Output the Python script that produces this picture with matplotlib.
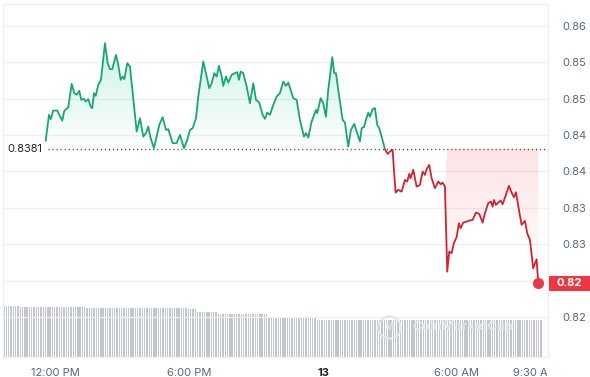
import matplotlib
matplotlib.use("Agg")
import matplotlib.pyplot as plt
import matplotlib.colors as mcolors
import numpy as np
from matplotlib.path import Path
from matplotlib.patches import Rectangle
from matplotlib.transforms import Bbox, TransformedBbox, blended_transform_factory

plt.rcParams["font.family"] = ["Inter", "DejaVu Sans"]

# time in hours relative to midnight of the 13th (negative = the 12th)
hours = [
    -12.418, -12.270, -12.194, -12.078, -11.899, -11.809, -11.675, -11.585, -11.406, -11.254,
    -11.137, -11.030, -10.914, -10.824, -10.703, -10.627, -10.510, -10.403, -10.331, -10.255,
    -10.179, -10.063, -9.942, -9.763, -9.642, -9.539, -9.436, -9.270, -9.167, -9.060,
    -8.970, -8.898, -8.764, -8.643, -8.343, -8.195, -8.047, -7.927, -7.824, -7.716,
    -7.568, -7.331, -7.179, -7.031, -6.928, -6.731, -6.552, -6.404, -6.225, -6.077,
    -5.956, -5.835, -5.687, -5.584, -5.477, -5.360, -5.208, -5.092, -4.984, -4.868,
    -4.760, -4.657, -4.536, -4.465, -4.344, -4.241, -4.089, -3.941, -3.838, -3.762,
    -3.686, -3.569, -3.417, -3.269, -3.121, -3.000, -2.853, -2.700, -2.597, -2.494,
    -2.373, -2.226, -2.073, -1.926, -1.778, -1.657, -1.554, -1.446, -1.330, -1.178,
    -1.030, -0.851, -0.761, -0.658, -0.506, -0.313, -0.255, -0.103, 0.013, 0.134,
    0.237, 0.313, 0.416, 0.506, 0.582, 0.685, 0.882, 0.985, 1.133, 1.254,
    1.402, 1.509, 1.657, 1.733, 1.836, 1.926, 2.029, 2.105, 2.226, 2.329,
    2.432, 2.521, 2.629, 2.777, 2.897, 3.000, 3.121, 3.180, 3.256, 3.372,
    3.524, 3.672, 3.775, 3.865, 3.927, 4.044, 4.196, 4.344, 4.465, 4.568,
    4.644, 4.760, 4.868, 5.016, 5.163, 5.271, 5.360, 5.464, 5.567, 5.656,
    5.764, 5.866, 5.987, 6.090, 6.167, 6.283, 6.435, 6.552, 6.704, 6.852,
    7.000, 7.152, 7.255, 7.403, 7.523, 7.600, 7.658, 7.747, 7.850, 7.958,
    8.047, 8.195, 8.330, 8.450, 8.553, 8.643, 8.791, 8.898, 9.046, 9.149,
    9.270, 9.418, 9.570, 9.642,
]
price = [
    0.83923, 0.84277, 0.84218, 0.84336, 0.84336, 0.84277, 0.84198, 0.84332, 0.84382, 0.84703,
    0.84575, 0.84552, 0.84607, 0.84483, 0.84497, 0.84459, 0.84492, 0.84391, 0.84369, 0.84575,
    0.84538, 0.84689, 0.84758, 0.85262, 0.84987, 0.84905, 0.84905, 0.85101, 0.84964, 0.84758,
    0.84803, 0.84767, 0.84987, 0.84941, 0.84047, 0.84231, 0.83978, 0.84025, 0.84116, 0.83956,
    0.83819, 0.84139, 0.84245, 0.84070, 0.84080, 0.83888, 0.83888, 0.84002, 0.83819, 0.83933,
    0.84070, 0.84094, 0.84231, 0.84528, 0.84758, 0.85009, 0.84803, 0.84644, 0.84712, 0.84850,
    0.84803, 0.84950, 0.84803, 0.84675, 0.84803, 0.84721, 0.84826, 0.84850, 0.84864, 0.84758,
    0.84872, 0.84850, 0.84666, 0.84437, 0.84712, 0.84483, 0.84446, 0.84277, 0.84222, 0.84308,
    0.84277, 0.84414, 0.84528, 0.84575, 0.84734, 0.84675, 0.84721, 0.84620, 0.84506, 0.84483,
    0.84208, 0.83978, 0.84025, 0.83965, 0.84185, 0.84345, 0.84300, 0.84506, 0.84437, 0.84253,
    0.84620, 0.84803, 0.85070, 0.84850, 0.84850, 0.84620, 0.84208, 0.84171, 0.83841, 0.84070,
    0.84153, 0.84047, 0.83910, 0.84094, 0.84108, 0.84208, 0.84308, 0.84253, 0.84355, 0.84369,
    0.84139, 0.84094, 0.83978, 0.83805, 0.83741, 0.83772, 0.83796, 0.83521, 0.83209, 0.83246,
    0.83222, 0.83383, 0.83360, 0.83466, 0.83407, 0.83521, 0.83291, 0.83314, 0.83497, 0.83452,
    0.83530, 0.83589, 0.83407, 0.83269, 0.83360, 0.83324, 0.83346, 0.83291, 0.82123, 0.82398,
    0.82376, 0.82513, 0.82596, 0.82788, 0.82719, 0.82796, 0.82810, 0.82824, 0.82833, 0.82934,
    0.82916, 0.82796, 0.82925, 0.83063, 0.83085, 0.83016, 0.83108, 0.83040, 0.83071, 0.83099,
    0.83049, 0.83177, 0.83301, 0.83209, 0.83145, 0.83214, 0.82947, 0.82765, 0.82820, 0.82650,
    0.82558, 0.82169, 0.82293, 0.81963,
]
base_price = 0.8381
base_label = "0.8381"
last_label = "0.82"
red_fill_from = 5.5  # the pink area only starts at the big drop

x_range = (-14.33, 10.08)
xtick_hours = [-12, -6, 0, 6, 9.5]
xtick_labels = ["12:00 PM", "6:00 PM", "13", "6:00 AM", "9:30 AM"]
ytick_values = [0.815, 0.820, 0.825, 0.830, 0.835, 0.840, 0.845, 0.850, 0.855]
ytick_labels = ["0.82", "0.82", "0.83", "0.83", "0.84", "0.84", "0.85", "0.85", "0.86"]
y_range = (0.8095, 0.8580)

# 24h volume, read as flat steps (relative units)
vol_levels = [51, 50, 49.5, 48.5, 45, 43, 40.5, 39.5, 37]
vol_counts = [7, 29, 44, 4, 9, 22, 14, 7, 98]
vol_span = (-14.28, 9.76)

GREEN = "#16c784"
GREEN_LINE = "#17a870"
RED = "#ea3943"
RED_LINE = "#d3232f"
GRID = "#eef0f3"
TXT = "#58667e"


def gradient_fill(ax, x, y, base, color, where, alpha_max, lo, hi):
    coll = ax.fill_between(x, y, base, where=where, interpolate=True,
                           facecolor="none", edgecolor="none")
    clip = Path.make_compound_path(*coll.get_paths())
    grad = np.zeros((256, 1, 4))
    grad[..., :3] = mcolors.to_rgb(color)
    grad[:, 0, 3] = np.linspace(0, alpha_max, 256)
    im = ax.imshow(grad, extent=[x.min(), x.max(), lo, hi], origin="lower",
                   aspect="auto", zorder=1, interpolation="bilinear")
    im.set_clip_path(clip, ax.transData)


fig = plt.figure(figsize=(5.9, 3.77), dpi=100)
ax = fig.add_axes([3 / 590, 20 / 377, 545 / 590, 353 / 377])

# volume in the background
axv = ax.twinx()
axv.set_zorder(0)
ax.set_zorder(1)
ax.patch.set_visible(False)
vol = np.repeat(vol_levels, vol_counts)
vol_x = np.linspace(vol_span[0], vol_span[1], len(vol))
step = vol_x[1] - vol_x[0]
axv.bar(vol_x, vol, width=step * 0.6, color="#c1c5cc", linewidth=0)
axv.set_ylim(0, max(vol_levels) * 353 / 51)
axv.set_xlim(*x_range)
axv.axis("off")

h = np.array(hours)
p = np.array(price)

gradient_fill(ax, h, p, base_price, GREEN, p >= base_price, 0.22, base_price, p.max())
gradient_fill(ax, h, p, base_price, RED, (p <= base_price) & (h >= red_fill_from), 0.14,
              p.min(), base_price)

# line, coloured by side of the baseline
for color, lo, hi in [(GREEN_LINE, base_price, 1.0), (RED_LINE, 0.0, base_price)]:
    ln, = ax.plot(h, p, color=color, lw=1.3, zorder=3, solid_joinstyle="round")
    ln.set_clip_path(Rectangle((x_range[0], lo), x_range[1] - x_range[0], hi - lo,
                               transform=ax.transData))
ax.plot(h[-1], p[-1], "o", color=RED, ms=7, zorder=4)

# dotted baseline + its label
ax.axhline(base_price, xmin=0.083, xmax=0.995, color="#444", lw=1,
           dashes=(0.8, 2.1), zorder=2)
ax.text(0.008, base_price, base_label, transform=blended_transform_factory(ax.transAxes, ax.transData),
        ha="left", va="center", fontsize=8, color="#222", zorder=5)

ax.set_xlim(*x_range)
ax.set_ylim(*y_range)

ax.set_yticks(ytick_values)
ax.set_yticklabels(ytick_labels)
ax.yaxis.tick_right()
ax.tick_params(axis="y", length=0, pad=10, labelsize=8, labelcolor=TXT)
# the tick label at the last price sits under the price tag
ax.get_yticklabels()[1].set_visible(False)
ax.set_xticks(xtick_hours)
ax.set_xticklabels(xtick_labels)
ax.tick_params(axis="x", length=0, pad=8, labelsize=8, labelcolor=TXT)
xl = ax.get_xticklabels()
xl[2].set_fontweight("bold")
xl[2].set_color("#222")
clip_box = TransformedBbox(Bbox([[0, 0], [547 / 590, 1]]), fig.transFigure)
xl[-1].set_clip_box(clip_box)
xl[-1].set_clip_on(True)

ax.grid(axis="y", color=GRID, lw=1)
ax.set_axisbelow(True)
for s in ax.spines.values():
    s.set_color(GRID)
    s.set_linewidth(1)

# last price tag
tag_tr = blended_transform_factory(fig.transFigure, ax.transData)
tag_h = 15 / 353 * (y_range[1] - y_range[0])
fig.patches.append(Rectangle((549 / 590, p[-1] - tag_h / 2), 45 / 590, tag_h,
                             transform=tag_tr, facecolor=RED, edgecolor="none", zorder=5))
fig.text(569 / 590, p[-1], last_label, transform=tag_tr, ha="center", va="center",
         fontsize=8, fontweight="bold", color="white", zorder=6)

# watermark
ax.plot([0.708], [0.085], "o", transform=ax.transAxes, ms=16, mfc="none",
        mec="#e2e5ea", mew=1.5, zorder=5)
ax.text(0.708, 0.085, "M", transform=ax.transAxes, ha="center", va="center",
        fontsize=7, fontweight="bold", color="#e2e5ea", zorder=5)
ax.text(0.751, 0.085, "CoinMarketCap", transform=ax.transAxes, ha="left", va="center",
        fontsize=9.5, fontweight="bold", color="#e2e5ea", zorder=5)

fig.savefig("out.png", dpi=100)
